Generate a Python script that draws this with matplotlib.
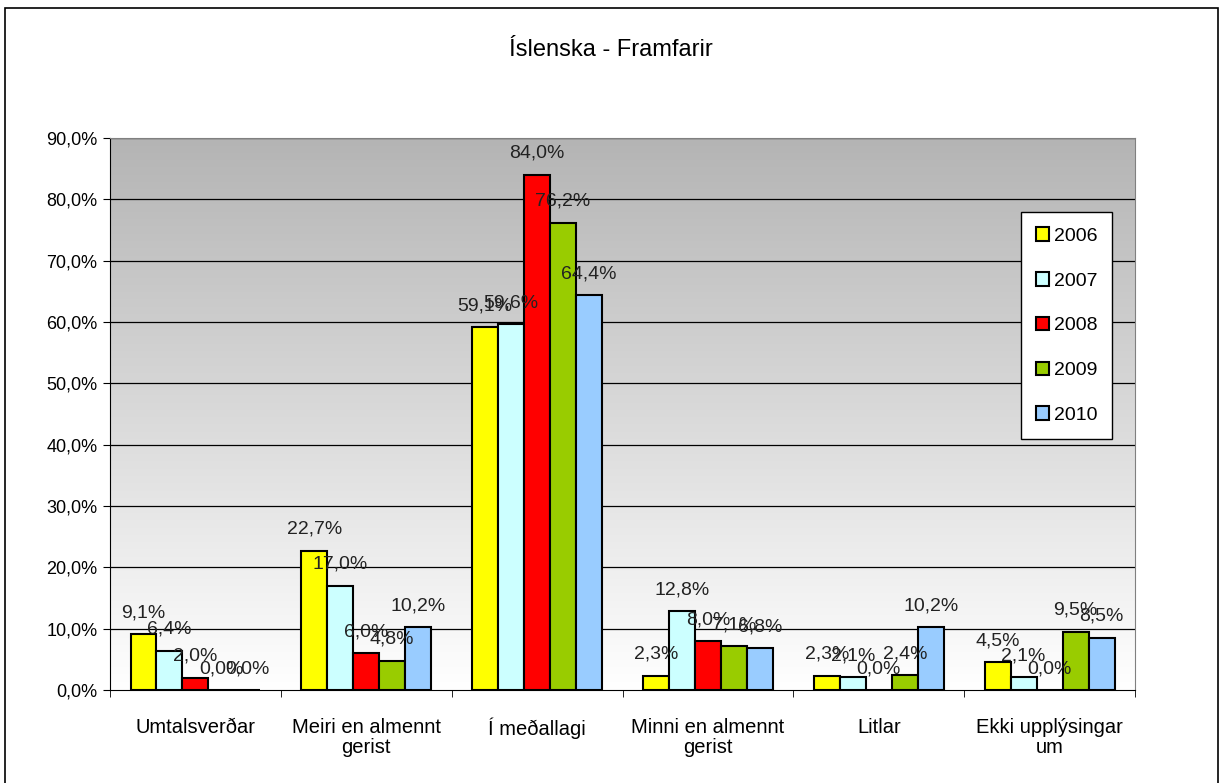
import numpy as np
import matplotlib.pyplot as plt
from matplotlib.patches import Rectangle
from matplotlib.colors import LinearSegmentedColormap

plt.rcParams['font.family'] = ['Liberation Sans', 'DejaVu Sans']

# Data
categories = ['Umtalsverðar', 'Meiri en almennt\ngerist', 'Í meðallagi',
              'Minni en almennt\ngerist', 'Litlar', 'Ekki upplýsingar\num']
years = ['2006', '2007', '2008', '2009', '2010']
v2006 = [9.1, 22.7, 59.1, 2.3, 2.3, 4.5]
v2007 = [6.4, 17.0, 59.6, 12.8, 2.1, 2.1]
v2008 = [2.0, 6.0, 84.0, 8.0, 0.0, 0.0]
v2009 = [0.0, 4.8, 76.2, 7.1, 2.4, 9.5]
v2010 = [0.0, 10.2, 64.4, 6.8, 10.2, 8.5]
series = [v2006, v2007, v2008, v2009, v2010]
colors = ['#ffff00', '#ccffff', '#ff0000', '#99cc00', '#99ccff']

fig = plt.figure(figsize=(12.21, 7.83), dpi=100)
ax = fig.add_axes([0.0901, 0.1188, 0.8395, 0.705])

# outer border of the chart
fig.patches.append(Rectangle((5 / 1221, -0.01), 1213 / 1221, 1 - 8 / 783 + 0.01,
                             transform=fig.transFigure, fill=False,
                             edgecolor='black', linewidth=1.2))

x = np.arange(len(categories))
w = 0.152
for i, (vals, c, yr) in enumerate(zip(series, colors, years)):
    pos = x + (i - 2) * w
    ax.bar(pos, vals, width=w, color=c, edgecolor='black',
           linewidth=1.5, label=yr, zorder=3)
    for xp, v in zip(pos, vals):
        ax.text(xp, v + 2.1, f'{v:.1f}%'.replace('.', ','), ha='center',
                va='bottom', fontsize=14, color='#222222', zorder=5)

ax.set_xlim(-0.5, len(categories) - 0.5)
ax.set_ylim(0, 90)

# gradient background
grad = np.linspace(0, 1, 256).reshape(-1, 1)
ax.imshow(grad, extent=(-0.5, len(categories) - 0.5, 0, 90), origin='lower',
          cmap=LinearSegmentedColormap.from_list('g', ['#ffffff', '#b4b4b4']),
          aspect='auto', zorder=0)

yt = np.arange(0, 91, 10)
ax.set_yticks(yt)
ax.set_yticklabels([f'{t:.1f}%'.replace('.', ',') for t in yt], fontsize=13)
for t in yt[1:]:
    ax.axhline(t, color='black', linewidth=0.9, zorder=1)

ax.set_xticks(x)
ax.set_xticklabels(categories, fontsize=14.5, linespacing=1.1)
ax.set_xticks(np.arange(-0.5, len(categories)), minor=True)
ax.tick_params(axis='x', which='major', length=0, pad=20)
ax.tick_params(axis='x', which='minor', length=5, direction='out')
ax.tick_params(axis='y', length=5, direction='out', pad=4)

for s in ['top', 'right']:
    ax.spines[s].set_color('#808080')
for s in ['left', 'bottom']:
    ax.spines[s].set_color('black')

fig.text(0.5, 1 - 50 / 783, 'Íslenska - Framfarir', ha='center', va='center',
         fontsize=17)

leg = ax.legend(loc='upper left', bbox_to_anchor=(0.889, 0.865), fontsize=14,
                frameon=True, fancybox=False, edgecolor='black', framealpha=1,
                handlelength=0.7, handleheight=0.7, handletextpad=0.25,
                labelspacing=1.4, borderpad=0.75, borderaxespad=0)
leg.get_frame().set_linewidth(1.0)
leg.set_zorder(10)

fig.savefig('out.png', dpi=100)
